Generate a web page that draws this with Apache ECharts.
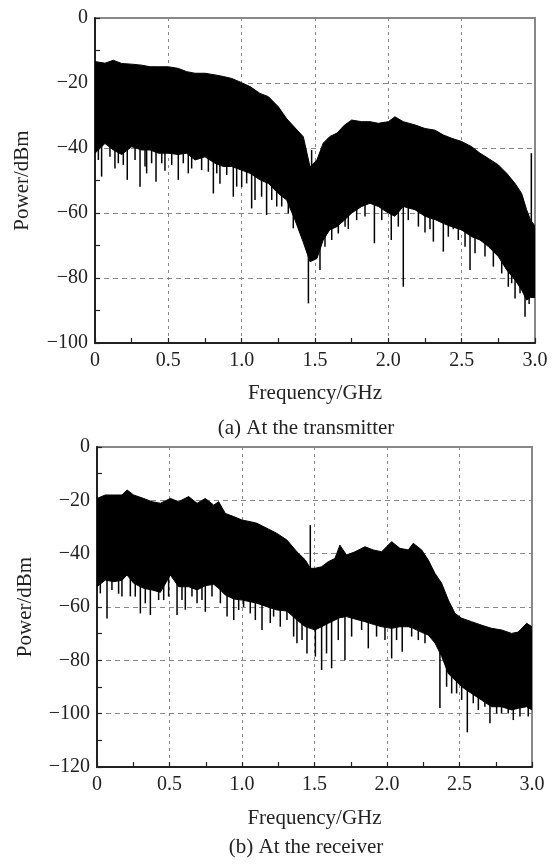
<!DOCTYPE html>
<html><head><meta charset="utf-8">
<script src="https://cdn.jsdelivr.net/npm/echarts@6.0.0/dist/echarts.min.js"></script>
<style>html,body{margin:0;padding:0;background:#fff}#c{width:558px;height:865px}</style>
</head><body><div id="c"></div><script>
// ---- Panel (a): at the transmitter ----
const freqA = [0, 0.068, 0.125, 0.182, 0.25, 0.318, 0.375, 0.432, 0.5, 0.568, 0.625, 0.682, 0.75, 0.818, 0.875, 0.932, 1.0, 1.057, 1.125, 1.182, 1.25, 1.307, 1.364, 1.42, 1.466, 1.513, 1.556, 1.6, 1.65, 1.7, 1.75, 1.818, 1.875, 1.932, 2.0, 2.045, 2.102, 2.182, 2.25, 2.318, 2.375, 2.432, 2.5, 2.568, 2.625, 2.682, 2.75, 2.807, 2.864, 2.909, 2.943, 2.97, 3.0];
const topA = [-13.4, -13.9, -13.0, -14.0, -14.2, -14.5, -15.0, -15.0, -15.0, -15.5, -16.5, -17.0, -17.0, -17.5, -18.0, -18.6, -19.9, -21.1, -23.2, -24.2, -27.3, -31.0, -33.8, -36.5, -45.8, -43.7, -38.5, -36.5, -35.4, -33.0, -31.4, -31.9, -31.9, -32.4, -31.9, -30.4, -31.9, -32.9, -34.0, -34.5, -36.0, -37.0, -38.0, -39.6, -41.6, -43.2, -45.2, -47.8, -50.9, -54.0, -59.0, -62.2, -64.0];
const lowA = [-41.6, -38.6, -40.6, -42.0, -39.6, -40.6, -40.6, -41.6, -41.6, -42.0, -41.6, -43.7, -42.7, -44.7, -45.7, -45.7, -46.8, -47.8, -49.8, -50.9, -54.0, -56.0, -62.2, -69.0, -75.0, -74.0, -68.3, -65.2, -64.2, -62.2, -60.0, -58.0, -57.0, -58.0, -60.0, -61.0, -58.0, -59.0, -61.0, -62.0, -63.2, -64.2, -65.2, -67.3, -68.3, -70.3, -73.4, -77.5, -80.6, -83.7, -86.8, -86.0, -86.0];
const spikeFreqA = [0.023, 0.045, 0.102, 0.136, 0.159, 0.193, 0.220, 0.273, 0.307, 0.341, 0.352, 0.386, 0.416, 0.455, 0.477, 0.523, 0.568, 0.602, 0.636, 0.659, 0.727, 0.773, 0.807, 0.830, 0.852, 0.898, 0.943, 0.966, 1.000, 1.034, 1.068, 1.091, 1.136, 1.170, 1.205, 1.239, 1.273, 1.318, 1.352, 1.386, 1.420, 1.455, 1.477, 1.534, 1.568, 1.614, 1.659, 1.705, 1.727, 1.784, 1.841, 1.905, 1.955, 2.020, 2.068, 2.102, 2.136, 2.205, 2.250, 2.284, 2.307, 2.375, 2.409, 2.443, 2.477, 2.523, 2.557, 2.591, 2.625, 2.659, 2.716, 2.773, 2.818, 2.841, 2.864, 2.898, 2.932, 2.960, 2.975];
const spikeValA = [-43.7, -48.8, -42.7, -46.3, -44.7, -45.2, -49.8, -43.7, -51.9, -45.7, -47.8, -44.7, -50.4, -44.7, -47.0, -45.2, -49.8, -44.7, -47.8, -46.3, -46.8, -47.3, -54.0, -47.8, -51.0, -48.3, -55.0, -51.9, -52.0, -50.9, -58.6, -56.0, -55.0, -60.6, -56.0, -58.0, -58.0, -60.1, -64.7, -64.2, -61.0, -87.8, -40.6, -77.5, -70.4, -68.3, -66.3, -64.2, -64.9, -62.2, -61.1, -69.3, -62.2, -68.3, -64.2, -82.7, -62.2, -64.2, -66.0, -65.0, -68.8, -71.9, -67.3, -65.0, -68.3, -70.4, -77.5, -72.4, -67.8, -73.4, -76.5, -78.6, -82.7, -81.6, -86.3, -84.7, -91.9, -88.0, -41.6];

// ---- Panel (b): at the receiver ----
const freqB = [0, 0.057, 0.115, 0.172, 0.207, 0.253, 0.322, 0.379, 0.437, 0.506, 0.563, 0.632, 0.69, 0.747, 0.805, 0.839, 0.885, 0.943, 1.0, 1.057, 1.103, 1.172, 1.241, 1.31, 1.379, 1.437, 1.471, 1.503, 1.549, 1.595, 1.641, 1.675, 1.721, 1.779, 1.848, 1.905, 1.963, 2.032, 2.089, 2.147, 2.181, 2.239, 2.285, 2.331, 2.377, 2.423, 2.469, 2.515, 2.583, 2.652, 2.721, 2.79, 2.859, 2.905, 2.963, 3.0];
const topB = [-19.3, -18.0, -18.0, -18.0, -16.1, -18.0, -19.3, -20.5, -21.1, -19.3, -20.5, -18.6, -21.1, -19.3, -21.8, -20.5, -24.9, -26.1, -27.4, -28.0, -28.6, -30.5, -32.4, -34.9, -39.3, -42.4, -45.5, -45.5, -44.9, -43.0, -41.8, -36.8, -40.5, -39.3, -37.4, -38.6, -39.3, -35.5, -38.0, -38.6, -36.1, -38.6, -42.4, -47.4, -51.1, -57.4, -62.4, -64.2, -65.5, -66.8, -68.0, -68.6, -69.9, -69.4, -66.1, -67.4];
const lowB = [-52.4, -49.9, -50.5, -50.0, -48.0, -51.1, -53.0, -53.6, -54.5, -48.0, -52.4, -52.4, -53.6, -52.0, -51.5, -53.0, -55.5, -57.0, -57.4, -58.0, -58.6, -59.9, -61.1, -61.5, -64.9, -67.4, -68.0, -68.6, -67.4, -66.1, -64.9, -64.0, -63.6, -64.5, -65.5, -66.5, -67.4, -68.0, -67.4, -67.4, -68.0, -69.5, -70.5, -73.5, -78.5, -85.0, -87.4, -89.9, -92.4, -94.9, -97.4, -97.4, -98.6, -98.0, -97.4, -98.6];
const spikeFreqB = [0.023, 0.069, 0.103, 0.149, 0.172, 0.230, 0.264, 0.299, 0.333, 0.368, 0.425, 0.460, 0.494, 0.552, 0.586, 0.609, 0.655, 0.690, 0.724, 0.747, 0.793, 0.851, 0.897, 0.943, 0.977, 1.011, 1.057, 1.092, 1.138, 1.195, 1.218, 1.264, 1.310, 1.356, 1.379, 1.414, 1.448, 1.471, 1.506, 1.549, 1.583, 1.618, 1.664, 1.710, 1.756, 1.825, 1.871, 1.928, 1.986, 2.032, 2.066, 2.105, 2.170, 2.216, 2.262, 2.365, 2.411, 2.446, 2.480, 2.515, 2.554, 2.595, 2.630, 2.675, 2.710, 2.756, 2.790, 2.836, 2.871, 2.917, 2.974];
const spikeValB = [-54.9, -64.3, -53.6, -55.0, -56.1, -56.0, -56.1, -62.4, -58.6, -63.0, -57.4, -57.4, -56.1, -63.0, -57.4, -61.0, -56.1, -58.6, -57.4, -61.8, -56.1, -58.6, -63.6, -64.9, -61.1, -60.0, -62.4, -64.9, -68.6, -66.0, -63.6, -67.4, -64.9, -71.1, -73.6, -72.4, -77.4, -29.3, -78.6, -83.6, -77.4, -83.0, -72.4, -80.0, -71.1, -68.6, -75.5, -71.1, -72.4, -79.3, -72.4, -76.8, -71.1, -72.4, -73.6, -97.9, -89.9, -92.4, -92.4, -94.9, -107.0, -96.1, -98.6, -97.4, -103.6, -99.9, -100.0, -99.9, -102.4, -101.1, -101.1];

const xTicks = ['0', '0.5', '1.0', '1.5', '2.0', '2.5', '3.0'];
const SERIF = 'Liberation Serif';
const MINUS = '\u2212';

function interp(freq, arr, f) {
  if (f <= freq[0]) return arr[0];
  for (let i = 0; i < freq.length - 1; i++) {
    if (f >= freq[i] && f <= freq[i + 1]) {
      const t = (f - freq[i]) / (freq[i + 1] - freq[i]);
      return arr[i] + t * (arr[i + 1] - arr[i]);
    }
  }
  return arr[arr.length - 1];
}

// One filled polygon per panel: upper envelope forward, lower body edge back.
function bodySeries(idx, freq, top, low) {
  return {
    type: 'custom', xAxisIndex: idx, yAxisIndex: idx, clip: true, silent: true, animation: false,
    data: freq.map((f, i) => [f, top[i], low[i]]),
    renderItem: function (params, api) {
      if (params.dataIndex !== 0) return null;
      const pts = [];
      for (let i = 0; i < freq.length; i++) pts.push(api.coord([freq[i], top[i]]));
      for (let i = freq.length - 1; i >= 0; i--) pts.push(api.coord([freq[i], low[i]]));
      return { type: 'polygon', shape: { points: pts }, style: { fill: '#000', stroke: '#000', lineWidth: 1 } };
    }
  };
}

function spikeSeries(idx, freq, low, sf, sv) {
  return {
    type: 'custom', xAxisIndex: idx, yAxisIndex: idx, clip: true, silent: true, animation: false,
    data: sf.map((f, i) => [f, sv[i]]),
    renderItem: function (params, api) {
      const f = api.value(0), v = api.value(1);
      const base = interp(freq, low, f) + 2;
      const p1 = api.coord([f, v]), p2 = api.coord([f, base]);
      return { type: 'line', shape: { x1: p1[0], y1: p1[1], x2: p2[0], y2: p2[1] }, style: { stroke: '#000', lineWidth: 1.5 } };
    }
  };
}

function xAx(idx, gap) {
  return {
    type: 'value', gridIndex: idx, min: 0, max: 3, interval: 0.5,
    name: 'Frequency/GHz', nameLocation: 'middle', nameGap: gap,
    nameTextStyle: { fontFamily: SERIF, fontSize: 21, color: '#222' },
    axisLine: { show: true, onZero: false, lineStyle: { color: '#222', width: 2 } },
    axisTick: { show: true, inside: true, length: 5, lineStyle: { color: '#222', width: 1.2 } },
    minorTick: { show: true, splitNumber: 2, length: 5, lineStyle: { color: '#222', width: 1.2 } },
    splitLine: { show: true, lineStyle: { color: '#888', width: 1, type: [3, 4] } },
    axisLabel: { margin: 8, fontFamily: SERIF, fontSize: 20, color: '#222',
      formatter: v => xTicks[Math.round(v / 0.5)] }
  };
}
function yAx(idx, min, gap) {
  return {
    type: 'value', gridIndex: idx, min: min, max: 0, interval: 20,
    name: 'Power/dBm', nameLocation: 'middle', nameGap: gap,
    nameTextStyle: { fontFamily: SERIF, fontSize: 21, color: '#222' },
    axisLine: { show: true, onZero: false, lineStyle: { color: '#222', width: 2 } },
    axisTick: { show: true, inside: true, length: 5, lineStyle: { color: '#222', width: 1.2 } },
    minorTick: { show: true, splitNumber: 2, length: 5, lineStyle: { color: '#222', width: 1.2 } },
    splitLine: { show: true, lineStyle: { color: '#888', width: 1, type: [5, 4] } },
    axisLabel: { margin: 7, fontFamily: SERIF, fontSize: 20, color: '#222',
      formatter: v => v < 0 ? MINUS + Math.abs(v) : String(v) }
  };
}

const chart = echarts.init(document.getElementById('c'), null, { renderer: 'canvas' });
chart.setOption({
  backgroundColor: '#fff',
  animation: false,
  grid: [
    { left: 95, top: 18, width: 440, height: 325, show: true, borderColor: '#888', borderWidth: 2, backgroundColor: 'transparent' },
    { left: 97, top: 447, width: 435, height: 320, show: true, borderColor: '#888', borderWidth: 2, backgroundColor: 'transparent' }
  ],
  xAxis: [xAx(0, 40), xAx(1, 41)],
  yAxis: [yAx(0, -100, 62), yAx(1, -120, 61)],
  graphic: [
    { type: 'text', x: 306, y: 428, style: { text: '(a) At the transmitter', font: '21px "Liberation Serif"', fill: '#222', align: 'center', verticalAlign: 'middle' } },
    { type: 'text', x: 306, y: 847, style: { text: '(b) At the receiver', font: '21px "Liberation Serif"', fill: '#222', align: 'center', verticalAlign: 'middle' } }
  ],
  series: [
    bodySeries(0, freqA, topA, lowA),
    spikeSeries(0, freqA, lowA, spikeFreqA, spikeValA),
    bodySeries(1, freqB, topB, lowB),
    spikeSeries(1, freqB, lowB, spikeFreqB, spikeValB)
  ]
});
</script></body></html>
